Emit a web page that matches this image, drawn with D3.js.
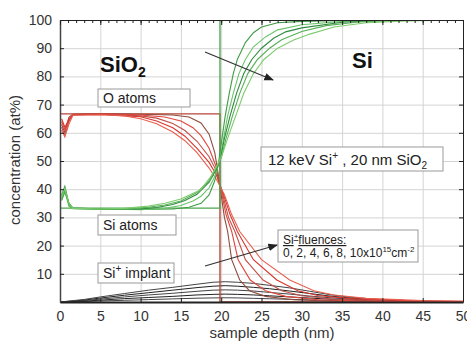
<!DOCTYPE html>
<html>
<head>
<meta charset="utf-8">
<script src="https://cdn.jsdelivr.net/npm/d3@7"></script>
<style>
  body { margin: 0; background: #fff; }
  text { font-family: "Liberation Sans", Arial, sans-serif; }
</style>
</head>
<body>
<svg class="chart"></svg>
<script>
// fluences (x10^15 cm-2) of the profiles
var fluences = [0, 2, 4, 6, 8, 10];

// O atoms: [depth nm, at%], one array per fluence
var oAtoms = [
  [[0,66.7],[19.85,66.7],[19.85,0],[50,0]],
  [[0.2,63],[0.6,60],[1.1,65.5],[1.6,66.6],[5,66.8],[10,66.6],[14,66.3],[16,65.6],[17.5,63.5],[18.5,59.5],[19.2,53],[19.6,46],[20.0,38],[20.4,30],[20.8,25],[21.3,15],[22.3,7.8],[23.5,4],[25.5,2],[29,0.8],[35,0.2],[50,0]],
  [[0.2,64],[0.6,61],[1.1,65],[1.6,66.5],[5,66.7],[10,66.3],[13,65.6],[15,64.2],[16.5,61.8],[17.5,59],[18.5,54.5],[19.3,48.5],[20.1,38],[20.6,31],[21.3,25],[22.1,15],[23.6,7.8],[25.5,4],[28,2],[32,0.8],[40,0.2],[50,0]],
  [[0.2,62],[0.6,59],[1.1,64],[1.6,66.4],[5,66.6],[10,66],[12,65.2],[14,63.3],[15.5,60.8],[17,57],[18.5,51.5],[19.4,46.5],[20.2,38],[20.9,30],[21.7,25],[23,15],[25.2,7.8],[27.5,4],[30,2.2],[34,1],[42,0.3],[50,0.1]],
  [[0.2,65],[0.6,62],[1.1,64.5],[1.6,66.3],[5,66.5],[10,65.7],[12,64.2],[14,61.8],[15.5,58.8],[17,54.5],[18.5,49.5],[19.4,45],[20.3,38],[21.1,31],[22,25],[24,15],[26.9,7.8],[29.5,4],[32,2.3],[36,1.2],[44,0.4],[50,0.2]],
  [[0.2,61],[0.6,58.5],[1.1,63],[1.6,66.2],[5,66.4],[8,66],[10,65],[12,63.2],[14,60.3],[15.5,57.2],[17,53],[18.5,47.5],[19.5,43],[20.4,38],[21.3,31],[22.3,25],[25,15],[28.5,7.8],[31.5,4],[34,2.5],[38,1.3],[45,0.5],[50,0.3]]
];

// Si atoms
var siAtoms = [
  [[0,33.3],[19.85,33.3],[19.85,100],[50,100]],
  [[0.2,36],[0.6,39],[1.1,35],[1.6,33.4],[5,33],[10,32.8],[14,33],[16,33.6],[17.5,35],[18.5,38],[19.2,43],[19.7,50],[20.1,58],[20.5,66],[21,74],[21.5,81],[22,86],[23,92],[24,95.5],[25,97.5],[27,99],[30,99.5],[35,99.8],[50,100]],
  [[0.2,37],[0.6,40],[1.1,34.5],[1.6,33.3],[5,33],[10,32.7],[13,33.2],[15,34.2],[16.5,35.8],[17.5,37.5],[18.5,40.5],[19.3,45],[19.8,50],[20.3,58],[20.8,66],[21.5,74],[22.2,81],[23,86],[24,90.5],[25.5,94],[27,96.5],[30,98.3],[35,99.5],[40,99.9],[50,100]],
  [[0.2,38],[0.6,41],[1.1,35],[1.6,33.2],[5,32.9],[10,33],[12,33.5],[14,34.6],[15.5,36],[17,38.2],[18.5,42.5],[19.4,47],[19.9,50.5],[20.4,58],[21.1,66],[21.9,74],[22.8,81],[23.8,86],[25,90],[26.5,93.5],[28,95.8],[30,97.2],[35,99.2],[40,99.8],[50,100]],
  [[0.2,36.5],[0.6,39.5],[1.1,34],[1.6,33.1],[5,32.9],[8,33],[11,33.6],[13,34.4],[15,35.8],[17,38.8],[18.5,43],[19.4,47.5],[20,51],[20.6,58],[21.4,66],[22.3,74],[23.3,81],[24.5,86],[26,90],[27.5,93],[30,95.9],[33,98],[37,99.3],[42,99.8],[50,100]],
  [[0.2,37.5],[0.6,40.4],[1.1,35],[1.6,33.2],[5,33],[8,33.2],[11,34],[13,35],[15,36.5],[17.4,39.7],[18.6,44],[19.5,48.5],[20.1,52],[20.8,58],[21.8,66],[22.8,74],[24,81],[25.3,86],[27,90],[29,92.9],[31,95],[34,97.5],[38,99],[43,99.7],[50,100]]
];

// implanted Si+ (fluences 2..10)
var implant = [
  [[0,0],[1,0.05],[3,0.15],[5,0.35],[8,0.6],[11,0.85],[14,1.1],[17,1.35],[19,1.45],[20.5,1.5],[22,1.45],[24,1.3],[26,1.15],[28.5,0.95],[31,0.75],[33.5,0.55],[36,0.35],[39,0.2],[43,0.1],[47,0.05],[50,0]],
  [[0,0],[1,0.1],[3,0.3],[5,0.65],[8,1.2],[11,1.6],[14,2],[17,2.5],[19,2.7],[20.5,2.8],[22,2.7],[24,2.5],[26,2.2],[28.5,1.8],[31,1.4],[33.5,1],[36,0.7],[39,0.4],[43,0.2],[47,0.1],[50,0]],
  [[0,0],[1,0.15],[3,0.5],[5,1],[8,1.8],[11,2.5],[14,3.1],[17,3.8],[19,4.2],[20.5,4.3],[22,4.2],[24,3.9],[26,3.4],[28.5,2.8],[31,2.1],[33.5,1.5],[36,1],[39,0.6],[43,0.3],[47,0.1],[50,0.05]],
  [[0,0],[1,0.2],[3,0.7],[5,1.4],[8,2.4],[11,3.3],[14,4.2],[17,5.1],[19,5.6],[20.5,5.8],[22,5.6],[24,5.2],[26,4.7],[28.5,3.9],[31,3],[33.5,2.1],[36,1.4],[39,0.8],[43,0.4],[47,0.2],[50,0.1]],
  [[0,0],[1,0.3],[3,0.9],[5,1.8],[8,3],[11,4.2],[14,5.2],[17,6.3],[19,7],[20.5,7.2],[22,7],[24,6.6],[26,5.9],[28.5,5],[31,3.8],[33.5,2.6],[36,1.7],[39,1],[43,0.5],[47,0.2],[50,0.1]]
];

var xTicks = [0, 5, 10, 15, 20, 25, 30, 35, 40, 45, 50];
var yTicks = [10, 20, 30, 40, 50, 60, 70, 80, 90, 100];

var redColors = ["#b84438", "#8f4a3c", "#e2453a", "#c0504a", "#d8342c", "#e86050"];
var greenColors = ["#4fa84f", "#3f9c45", "#6cc46c", "#2f8a3f", "#55b055", "#7ccc6c"];

var margin = { top: 20, right: 4, bottom: 44, left: 60 },
    width = 467 - margin.left - margin.right,
    height = 346 - margin.top - margin.bottom;

var root = d3.select(".chart")
    .attr("width", 467)
    .attr("height", 346);

var svg = root.append("g")
    .attr("transform", "translate(" + margin.left + "," + margin.top + ")");

var x = d3.scaleLinear().domain([0, 50]).range([0, width]);
var y = d3.scaleLinear().domain([0, 100]).range([height, 0]);

// grid
svg.append("g")
    .attr("transform", "translate(0," + height + ")")
    .call(d3.axisBottom(x).tickValues(xTicks).tickSize(-height).tickFormat(""))
    .call(function(g) { g.select(".domain").remove(); g.selectAll("line").attr("stroke", "#d4d4d4"); });
svg.append("g")
    .call(d3.axisLeft(y).tickValues(yTicks).tickSize(-width).tickFormat(""))
    .call(function(g) { g.select(".domain").remove(); g.selectAll("line").attr("stroke", "#d4d4d4"); });

svg.append("defs").append("clipPath").attr("id", "clip")
  .append("rect").attr("width", width).attr("height", height + 1);

var line = d3.line()
    .x(function(d) { return x(d[0]); })
    .y(function(d) { return y(d[1]); });

var plot = svg.append("g").attr("clip-path", "url(#clip)");

plot.selectAll(".imp")
    .data(implant)
  .enter().append("path")
    .attr("class", "imp")
    .attr("d", line)
    .attr("fill", "none")
    .attr("stroke", function(d, i) { return i % 2 ? "#222" : "#444"; })
    .attr("stroke-width", 1);

plot.selectAll(".oat")
    .data(oAtoms)
  .enter().append("path")
    .attr("class", "oat")
    .attr("d", line)
    .attr("fill", "none")
    .attr("stroke", function(d, i) { return redColors[i]; })
    .attr("stroke-width", function(d, i) { return i === 0 ? 1.4 : 1.1; });

plot.selectAll(".siat")
    .data(siAtoms)
  .enter().append("path")
    .attr("class", "siat")
    .attr("d", line)
    .attr("fill", "none")
    .attr("stroke", function(d, i) { return greenColors[i]; })
    .attr("stroke-width", function(d, i) { return i === 0 ? 1.4 : 1.1; });

// axes
var axisStyle = function(g) {
  g.selectAll("text").attr("fill", "#333").style("font-size", "14px");
  g.selectAll("line").attr("stroke", "#222");
};
svg.append("g")
    .attr("transform", "translate(0," + height + ")")
    .call(d3.axisBottom(x).tickValues(xTicks).tickSize(-4).tickPadding(9).tickSizeOuter(0))
    .call(axisStyle)
    .call(function(g) { g.select(".domain").attr("stroke", "#222").attr("stroke-width", 2); });
svg.append("g")
    .call(d3.axisLeft(y).tickValues(yTicks).tickSize(-4).tickPadding(8).tickSizeOuter(0))
    .call(axisStyle)
    .call(function(g) { g.select(".domain").attr("stroke", "#444").attr("stroke-width", 1.5); });
svg.append("g")
    .call(d3.axisTop(x).ticks(50).tickSize(-3).tickFormat("").tickSizeOuter(0))
    .call(function(g) { g.selectAll("line").attr("stroke", "#222"); g.select(".domain").attr("stroke", "#222"); });
svg.append("g")
    .call(d3.axisTop(x).tickValues(xTicks).tickSize(-5).tickFormat("").tickSizeOuter(0))
    .call(function(g) { g.selectAll("line").attr("stroke", "#222"); g.select(".domain").remove(); });
svg.append("g")
    .attr("transform", "translate(" + width + ",0)")
    .call(d3.axisRight(y).tickValues(yTicks).tickSize(-4).tickFormat("").tickSizeOuter(0))
    .call(function(g) { g.selectAll("line").attr("stroke", "#222"); g.select(".domain").attr("stroke", "#222"); });

// axis titles
root.append("text")
    .attr("x", 272).attr("y", 338)
    .attr("text-anchor", "middle")
    .attr("fill", "#333")
    .style("font-size", "15px")
    .text("sample depth (nm)");
root.append("text")
    .attr("transform", "translate(20,160) rotate(-90)")
    .attr("text-anchor", "middle")
    .attr("fill", "#333")
    .style("font-size", "15px")
    .text("concentration (at%)");

// region labels
var lab1 = root.append("text").attr("x", 100).attr("y", 72)
    .attr("fill", "#111").style("font-size", "22px").style("font-weight", "bold");
lab1.append("tspan").text("SiO");
lab1.append("tspan").attr("dy", 5).style("font-size", "14px").text("2");
root.append("text").attr("x", 352).attr("y", 68)
    .attr("fill", "#111").style("font-size", "22px").style("font-weight", "bold")
    .text("Si");

// boxed notes
function box(x0, y0, w, h) {
  root.append("rect")
      .attr("x", x0).attr("y", y0).attr("width", w).attr("height", h)
      .attr("fill", "#fff").attr("stroke", "#999").attr("stroke-width", 1);
}
function note(x0, y0, size) {
  return root.append("text").attr("x", x0).attr("y", y0)
      .attr("fill", "#222").style("font-size", size + "px");
}

box(98, 89, 92, 18);
note(103, 103, 14).text("O atoms");

box(98, 215, 78, 20);
note(103, 230, 14).text("Si atoms");

box(98, 263, 76, 20);
var t3 = note(103, 278, 14);
t3.append("tspan").text("Si");
t3.append("tspan").attr("dy", -6).style("font-size", "10px").text("+");
t3.append("tspan").attr("dy", 6).text(" implant");

box(261, 147, 182, 24);
var t4 = note(268, 165, 15);
t4.append("tspan").text("12 keV Si");
t4.append("tspan").attr("dy", -6).style("font-size", "10px").text("+");
t4.append("tspan").attr("dy", 6).text(" , 20 nm SiO");
t4.append("tspan").attr("dy", 4).style("font-size", "10px").text("2");

box(278, 230, 140, 32);
var t5 = note(283, 244, 12).style("text-decoration", "underline");
t5.append("tspan").text("Si");
t5.append("tspan").attr("dy", -5).style("font-size", "8px").text("+");
t5.append("tspan").attr("dy", 5).text("fluences:");
var t6 = note(283, 257, 12);
t6.append("tspan").text("0, 2, 4, 6, 8, 10x10");
t6.append("tspan").attr("dy", -5).style("font-size", "8px").text("15");
t6.append("tspan").attr("dy", 5).text("cm");
t6.append("tspan").attr("dy", -5).style("font-size", "8px").text("-2");

// arrows
root.append("defs").append("marker")
    .attr("id", "head").attr("viewBox", "0 0 10 10")
    .attr("refX", 9).attr("refY", 5)
    .attr("markerWidth", 8).attr("markerHeight", 8)
    .attr("orient", "auto")
  .append("path").attr("d", "M0,1 L10,5 L0,9 Z").attr("fill", "#222");

root.append("line")
    .attr("x1", 205).attr("y1", 52).attr("x2", 273).attr("y2", 80)
    .attr("stroke", "#333").attr("stroke-width", 1.2)
    .attr("marker-end", "url(#head)");
root.append("line")
    .attr("x1", 205).attr("y1", 266).attr("x2", 277).attr("y2", 245)
    .attr("stroke", "#333").attr("stroke-width", 1.2)
    .attr("marker-end", "url(#head)");
</script>
</body>
</html>
